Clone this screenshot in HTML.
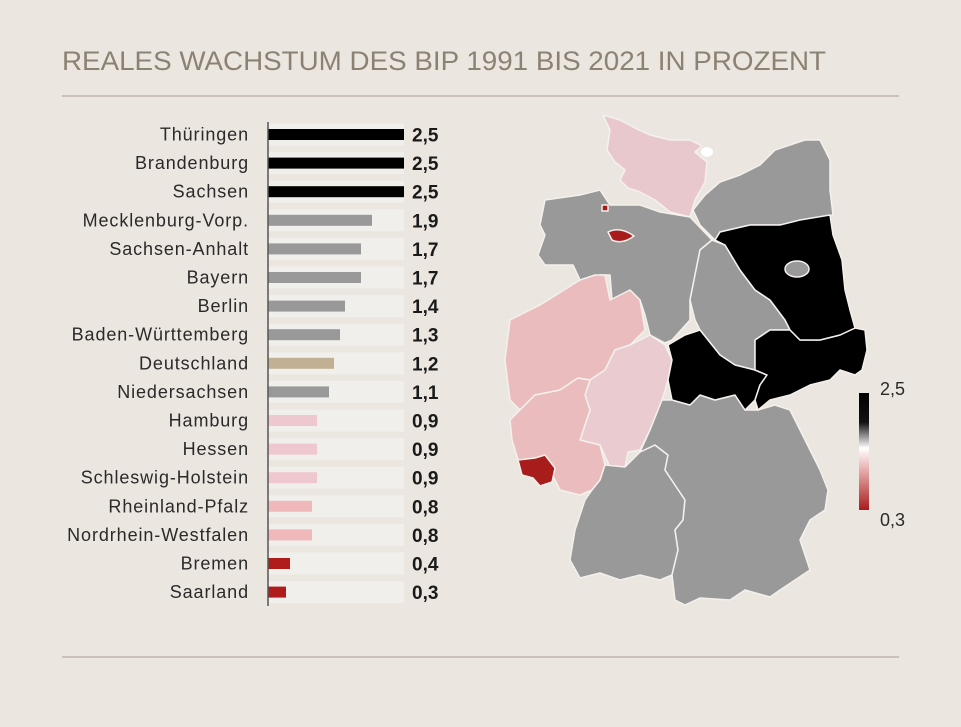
<!DOCTYPE html>
<html><head><meta charset="utf-8"><style>
html,body{margin:0;padding:0;background:#ebe6df;}
svg{display:block;font-family:"Liberation Sans",sans-serif;}
.t{fill:#f1efec}
.l{font-size:18px;fill:#2a2a2a;text-anchor:end;letter-spacing:0.9px}
.v{font-size:19px;font-weight:bold;fill:#1a1a1a}
</style></head><body>
<svg width="961" height="727" viewBox="0 0 961 727">
<rect width="961" height="727" fill="#ebe6df"/>
<text x="62" y="70" font-size="27" fill="#8c8273" textLength="764" lengthAdjust="spacingAndGlyphs">REALES WACHSTUM DES BIP 1991 BIS 2021 IN PROZENT</text>
<line x1="62" y1="96" x2="899" y2="96" stroke="#a89e90" stroke-width="1"/>
<line x1="62" y1="657" x2="899" y2="657" stroke="#a89e90" stroke-width="1"/>

<g transform="translate(0,134.5)"><rect class="t" x="268" y="-11" width="136" height="22"/><rect x="268" y="-5.5" width="136" height="11" fill="#000"/><text class="l" x="249" y="6">Thüringen</text><text class="v" x="412" y="7">2,5</text></g>
<g transform="translate(0,163.1)"><rect class="t" x="268" y="-11" width="136" height="22"/><rect x="268" y="-5.5" width="136" height="11" fill="#000"/><text class="l" x="249" y="6">Brandenburg</text><text class="v" x="412" y="7">2,5</text></g>
<g transform="translate(0,191.7)"><rect class="t" x="268" y="-11" width="136" height="22"/><rect x="268" y="-5.5" width="136" height="11" fill="#000"/><text class="l" x="249" y="6">Sachsen</text><text class="v" x="412" y="7">2,5</text></g>
<g transform="translate(0,220.3)"><rect class="t" x="268" y="-11" width="136" height="22"/><rect x="268" y="-5.5" width="104" height="11" fill="#999"/><text class="l" x="249" y="6">Mecklenburg-Vorp.</text><text class="v" x="412" y="7">1,9</text></g>
<g transform="translate(0,248.9)"><rect class="t" x="268" y="-11" width="136" height="22"/><rect x="268" y="-5.5" width="93" height="11" fill="#999"/><text class="l" x="249" y="6">Sachsen-Anhalt</text><text class="v" x="412" y="7">1,7</text></g>
<g transform="translate(0,277.5)"><rect class="t" x="268" y="-11" width="136" height="22"/><rect x="268" y="-5.5" width="93" height="11" fill="#999"/><text class="l" x="249" y="6">Bayern</text><text class="v" x="412" y="7">1,7</text></g>
<g transform="translate(0,306.1)"><rect class="t" x="268" y="-11" width="136" height="22"/><rect x="268" y="-5.5" width="77" height="11" fill="#999"/><text class="l" x="249" y="6">Berlin</text><text class="v" x="412" y="7">1,4</text></g>
<g transform="translate(0,334.7)"><rect class="t" x="268" y="-11" width="136" height="22"/><rect x="268" y="-5.5" width="72" height="11" fill="#999"/><text class="l" x="249" y="6">Baden-Württemberg</text><text class="v" x="412" y="7">1,3</text></g>
<g transform="translate(0,363.3)"><rect class="t" x="268" y="-11" width="136" height="22"/><rect x="268" y="-5.5" width="66" height="11" fill="#c2b095"/><text class="l" x="249" y="6">Deutschland</text><text class="v" x="412" y="7">1,2</text></g>
<g transform="translate(0,391.9)"><rect class="t" x="268" y="-11" width="136" height="22"/><rect x="268" y="-5.5" width="61" height="11" fill="#999"/><text class="l" x="249" y="6">Niedersachsen</text><text class="v" x="412" y="7">1,1</text></g>
<g transform="translate(0,420.5)"><rect class="t" x="268" y="-11" width="136" height="22"/><rect x="268" y="-5.5" width="49" height="11" fill="#efc8cf"/><text class="l" x="249" y="6">Hamburg</text><text class="v" x="412" y="7">0,9</text></g>
<g transform="translate(0,449.1)"><rect class="t" x="268" y="-11" width="136" height="22"/><rect x="268" y="-5.5" width="49" height="11" fill="#efc8cf"/><text class="l" x="249" y="6">Hessen</text><text class="v" x="412" y="7">0,9</text></g>
<g transform="translate(0,477.7)"><rect class="t" x="268" y="-11" width="136" height="22"/><rect x="268" y="-5.5" width="49" height="11" fill="#efc8cf"/><text class="l" x="249" y="6">Schleswig-Holstein</text><text class="v" x="412" y="7">0,9</text></g>
<g transform="translate(0,506.3)"><rect class="t" x="268" y="-11" width="136" height="22"/><rect x="268" y="-5.5" width="44" height="11" fill="#f0b8bb"/><text class="l" x="249" y="6">Rheinland-Pfalz</text><text class="v" x="412" y="7">0,8</text></g>
<g transform="translate(0,534.9)"><rect class="t" x="268" y="-11" width="136" height="22"/><rect x="268" y="-5.5" width="44" height="11" fill="#f0b8bb"/><text class="l" x="249" y="6">Nordrhein-Westfalen</text><text class="v" x="412" y="7">0,8</text></g>
<g transform="translate(0,563.5)"><rect class="t" x="268" y="-11" width="136" height="22"/><rect x="268" y="-5.5" width="22" height="11" fill="#b01c1c"/><text class="l" x="249" y="6">Bremen</text><text class="v" x="412" y="7">0,4</text></g>
<g transform="translate(0,592.1)"><rect class="t" x="268" y="-11" width="136" height="22"/><rect x="268" y="-5.5" width="18" height="11" fill="#b01c1c"/><text class="l" x="249" y="6">Saarland</text><text class="v" x="412" y="7">0,3</text></g>

<line x1="268" y1="122" x2="268" y2="606" stroke="#555" stroke-width="1.5"/>
<!-- map -->
<g stroke="#f4f0ec" stroke-width="1.5" stroke-linejoin="round">
<polygon fill="#e9c8cd" points="603,115 610,130 607,150 615,162 625,170 620,180 628,188 640,192 655,200 670,212 690,217 695,200 705,182 707,162 695,152 702,146 690,140 670,140 650,135 635,128 620,120"/>
<polygon fill="#999" points="693,210 705,195 720,182 740,175 760,165 775,150 790,145 805,140 820,140 830,160 830,190 833,215 810,220 780,225 750,225 720,232 715,240 700,225"/>
<polygon fill="#999" points="545,200 580,195 600,190 610,205 640,205 660,212 690,217 712,240 700,250 695,275 690,300 690,320 672,340 665,343 650,335 645,315 640,300 630,290 612,300 610,275 600,275 590,285 580,280 573,265 545,265 538,255 545,235 540,225"/>
<polygon fill="#ebbcbe" points="510,320 540,305 580,280 595,275 605,275 610,300 630,290 640,300 645,330 630,345 615,350 605,370 590,380 578,378 560,390 535,395 520,410 510,400 505,360"/>
<polygon fill="#e9cbd0" points="615,350 630,345 650,335 665,345 672,360 668,380 662,400 650,430 640,450 628,452 625,467 610,467 600,445 580,440 590,410 585,395 590,380 605,370"/>
<polygon fill="#ebbcbe" points="520,410 535,395 560,390 578,378 590,380 585,395 590,410 580,440 600,445 605,465 600,480 592,490 580,495 560,490 550,470 530,465 518,460 512,440 510,420"/>
<polygon fill="#a81c1c" points="518,460 535,458 545,455 555,468 552,482 540,486 533,478 522,475"/>
<polygon fill="#999" points="600,480 605,465 625,467 640,452 655,445 668,455 665,470 675,485 685,500 683,520 675,530 678,550 672,575 660,580 640,575 620,580 600,573 580,578 570,560 575,530 585,500 592,490"/>
<polygon fill="#999" points="650,430 662,400 672,400 690,405 700,395 715,400 735,395 745,410 758,410 775,405 790,410 800,430 810,450 820,470 828,490 825,510 810,520 800,540 810,570 795,580 780,590 770,597 745,590 730,600 700,598 685,605 675,600 672,575 678,550 675,530 683,520 685,500 675,485 665,470 668,455 655,445 640,452"/>
<polygon fill="#999" points="700,250 712,240 725,245 740,270 755,290 770,300 785,320 790,330 770,330 755,340 755,370 735,365 720,355 700,330 695,320 690,300 695,275"/>
<polygon fill="#000" points="668,345 685,335 700,330 720,355 735,365 755,370 767,375 760,385 755,400 745,410 735,395 715,400 700,395 690,405 672,400 668,380 672,360"/>
<polygon fill="#000" points="755,340 770,330 790,330 800,340 820,340 840,335 855,328 865,330 867,350 862,370 855,375 840,370 830,380 810,385 790,395 770,400 758,410 755,400 760,385 767,375 755,370"/>
<polygon fill="#000" points="715,240 720,232 750,225 780,225 800,220 830,215 833,235 842,260 845,290 850,310 855,328 840,335 820,340 800,340 790,330 785,320 770,300 755,290 740,270 725,245"/>
<ellipse cx="797" cy="269" rx="12" ry="8" fill="#999"/>
<path d="M608,232 Q620,226 634,236 Q622,245 612,240 Z" fill="#a81c1c"/>
<rect x="602" y="205" width="6" height="6" fill="#a81c1c"/>
</g>
<ellipse cx="707" cy="152" rx="6" ry="5" fill="#fff"/>
<defs><linearGradient id="lg" x1="0" y1="0" x2="0" y2="1">
<stop offset="0" stop-color="#000"/><stop offset="0.25" stop-color="#111"/><stop offset="0.47" stop-color="#fff"/><stop offset="0.65" stop-color="#e8b0b0"/><stop offset="1" stop-color="#a81c1c"/></linearGradient></defs>
<rect x="859" y="393" width="10" height="117" fill="url(#lg)"/>
<text x="880" y="395" font-size="18" fill="#2a2a2a">2,5</text>
<text x="880" y="526" font-size="18" fill="#2a2a2a">0,3</text>
</svg>
</body></html>
